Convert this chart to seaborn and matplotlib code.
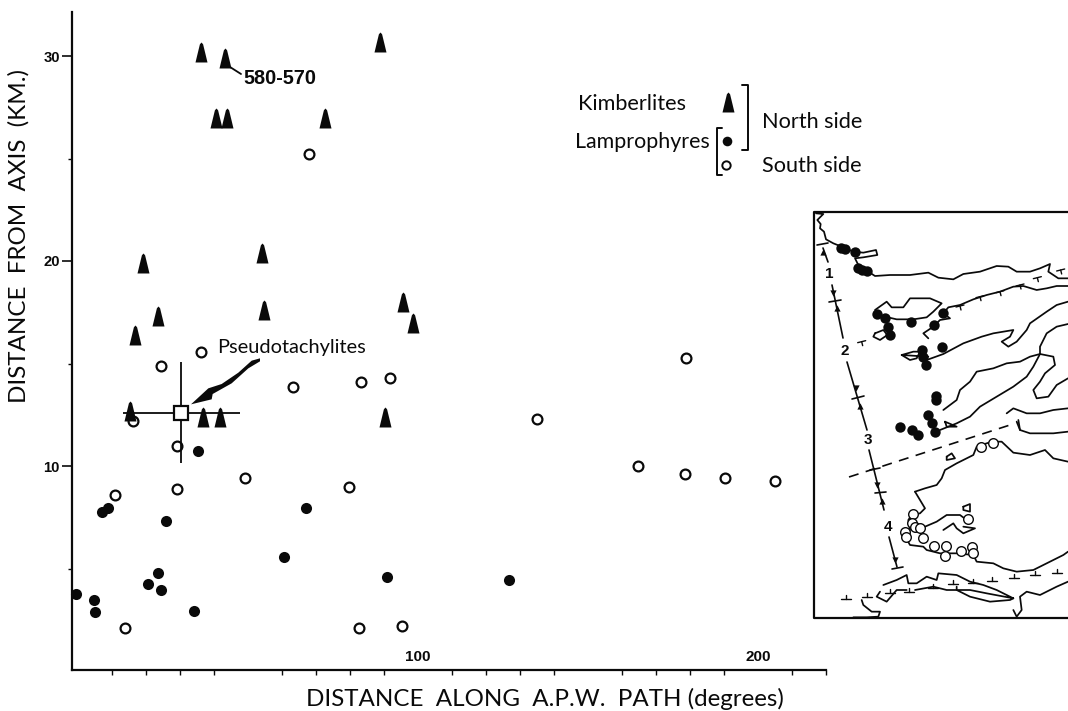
import numpy as np
import pandas as pd
import matplotlib
matplotlib.use("Agg")
import matplotlib.pyplot as plt
import seaborn as sns

# ---------- data (degrees along path, km from axis) ----------
kimb_x = [36.2, 43.2, 88.8, 40.6, 43.8, 72.6, 19.1, 54.1, 23.5, 16.8, 54.7, 95.6, 98.5, 15.3, 36.8, 41.8, 90.3]
kimb_y = [30.2, 29.9, 30.7, 27.0, 27.0, 27.0, 19.9, 20.4, 17.3, 16.4, 17.6, 18.0, 17.0, 12.7, 12.4, 12.4, 12.4]
lamp_n_x = [-0.7, 4.7, 5.0, 7.1, 8.8, 20.6, 23.4, 24.3, 25.9, 34.2, 35.3, 60.6, 67.1, 90.9, 126.8]
lamp_n_y = [3.76, 3.46, 2.88, 7.76, 7.95, 4.24, 4.78, 3.95, 7.32, 2.93, 10.73, 5.56, 7.95, 4.59, 4.44]
lamp_s_x = [13.8, 82.6, 95.3, 36.1, 24.4, 16.2, 63.2, 83.2, 91.8, 29.1, 49.1, 79.7, 29.1, 10.9, 67.9, 135.0,
            164.7, 178.8, 178.5, 190.3, 205.0]
lamp_s_y = [2.10, 2.10, 2.20, 15.56, 14.88, 12.2, 13.85, 14.1, 14.3, 10.98, 9.41, 8.98, 8.88, 8.59, 25.2, 12.3,
            10.0, 15.27, 9.6, 9.41, 9.27]
pseudo_x, pseudo_y = 30.3, 12.6
pseudo_xerr, pseudo_yerr = 17.2, 2.45
x_major = [50, 100, 150, 200]
x_major_labels = ["", "100", "", "200"]
x_minor = [10, 20, 30, 40, 60, 70, 80, 90, 110, 120, 130, 140, 160, 170, 180, 190, 210, 220]
y_major = [10, 20, 30]
y_minor = [5, 15, 25]

# ---------- inset map: traced outlines ----------
m1 = [
 [(48,40),(70,42),(52,60),(62,72),(60,85),(72,95),(78,118),(100,130),(125,140),(160,155),(190,158),(228,150),(232,165),(190,172),(165,175),(175,195),(205,215),(225,228),(270,225),(330,225),(385,218),(415,233),(460,238),(490,222),(540,215),(590,198),(625,200),(650,215),(690,215),(720,205),(750,192),(745,215),(775,235),(804,235)],
 [(804,258),(770,258),(740,265),(710,270),(670,258),(640,260),(600,275),(560,285),(520,298),(480,315),(445,322),(430,340),(450,355),(420,360),(400,380),(370,400),(385,415)],
 [(225,330),(260,305),(275,322),(310,322),(330,295),(370,295),(390,295),(425,310),(400,335),(380,352),(340,358),(290,358),(255,350),(225,340)],
 [(225,400),(250,390),(262,405),(240,420),(220,410),(225,400)],
 [(380,480),(430,462),(490,430),(545,410),(580,400),(640,390),(630,410),(605,425),(625,440),(650,425),(680,390),(690,370),(740,335),(770,315),(804,305)],
 [(385,470),(305,465),(340,455),(360,455),(350,475),(330,480),(305,465)],
 [(430,630),(470,600),(480,570),(510,545),(530,515),(580,505),(620,490),(660,485),(690,470),(720,462),(720,440),(740,400),(770,380),(804,372)],
 [(720,462),(760,470),(765,495),(735,520),(720,545),(700,570),(710,595),(745,590),(770,555),(804,535)],
 [(420,690),(470,670),(510,650),(540,620),(590,590),(640,560),(680,530),(700,500),(720,462)],
 [(620,640),(640,625),(680,640),(720,640),(760,630),(804,625)],
 [(650,665),(660,690)],
]
m2 = [
 [(655,0),(660,30),(690,40),(760,40),(804,35)],
 [(345,215),(375,205),(410,195),(425,175),(435,150),(470,130),(520,105),(530,80),(575,65),(605,65),(640,98),(690,105),(735,90),(760,115),(804,125)],
 [(345,215),(360,240),(375,265),(360,280),(335,285),(325,300),(330,330),(345,320),(375,320),(410,305),(440,285),(480,285),(500,300)],
 [(430,330),(460,310),(470,325),(490,340),(525,325),(490,320)],
 [(310,340),(330,375),(370,380),(380,390),(420,400),(470,400),(520,405),(530,425),(580,430),(610,445),(650,455),(700,450),(740,430),(790,405),(804,395)],
 [(490,260),(510,252),(510,275),(490,270),(490,260)],
 [(250,495),(290,480),(320,465),(325,490),(350,490),(380,470),(410,480),(415,460),(470,465),(510,485),(550,495),(590,510),(640,535),(630,540),(570,545),(510,530),(470,510),(510,510),(560,520),(640,535)],
 [(345,510),(400,500),(440,510),(470,510),(470,500)],
 [(240,515),(230,530),(260,545),(290,510),(320,510)],
 [(185,540),(190,555),(215,575),(240,575),(235,590),(200,592),(160,592)],
 [(640,570),(650,590),(665,570),(660,530),(680,515),(720,525),(770,500),(804,485)],
 [(435,5),(470,20),(440,20),(435,5)],
 [(440,110),(455,100),(465,115),(440,120),(440,110)],
]
map_ticks_z2 = [(137,538),(202,530),(270,519),(327,516),(400,503),(460,492),(520,490),(576,483),(642,475),(705,465),(770,460)]
map_ticks_z1 = [(782,210),(712,233),(660,255),(600,275),(540,290),(480,318),(185,425)]
map_filled = [(841,248),(845,249),(855,252),(858,268),(862,270),(867,271),(877,314),(885,318),(888,327),(890,335),(911,322),
              (943,313),(934,325),(942,347),(922,350),(923,357),(926,365),(936,396),(936,400),(928,415),(932,423),
              (900,427),(912,430),(918,435),(935,432)]
map_open = [(981,447),(993,443),(913,514),(912,523),(915,527),(920,528),(905,532),(906,537),(923,538),(934,546),
            (946,546),(945,556),(961,551),(972,547),(973,553),(968,519)]
path_segments = [[(823,248),(828,262)],[(832,285),(843,338)],[(847,362),(867,430)],[(869,450),(884,510)],[(889,537),(897,567)]]
path_bars = [[(817,245),(828,243)],[(829,302),(841,300)],[(852,399),(864,396)],[(875,493),(886,492)],
             [(892,569),(903,567)],[(870,470),(880,468)]]
path_numbers = [("1",829,274),("2",845,351),("3",868,440),("4",888,527)]
path_up = [(823,252),(837,308),(860,406),(882,501)]
path_down = [(833,293),(856,388),(877,485),(895,560)]

def z1(pts):
    return [(800 + a/3, 200 + b/3) for a, b in pts]
def z2(pts):
    return [(800 + a/3, 420 + b/3) for a, b in pts]

# ---------- figure ----------
sns.set_style("white")
hand = ["Lato", "DejaVu Sans"]
bold = ["Liberation Sans", "DejaVu Sans"]
plt.rcParams["font.family"] = hand

W, H = 1068, 711
fig = plt.figure(figsize=(W/100, H/100), dpi=100, facecolor="white")
L, R, T, B = 72, 826, 12, 670
ax = fig.add_axes([L/W, 1-B/H, (R-L)/W, (B-T)/H])
ink = "#0a0a0a"
ax.set_xlim((L-78)/3.4, (R-78)/3.4)
ax.set_ylim((671-B)/20.5, (671-T)/20.5)

tri = [(-0.6,-1.0),(-0.42,-0.25),(-0.16,0.82),(0,1.0),(0.16,0.82),(0.42,-0.25),(0.6,-1.0)]
kimb = pd.DataFrame({"x": kimb_x, "y": kimb_y})
ln = pd.DataFrame({"x": lamp_n_x, "y": lamp_n_y})
ls = pd.DataFrame({"x": lamp_s_x, "y": lamp_s_y})

sns.scatterplot(data=ls, x="x", y="y", ax=ax, marker="o", s=50, color="white", edgecolor=ink, linewidth=1.6, zorder=3, clip_on=False)
sns.scatterplot(data=ln, x="x", y="y", ax=ax, marker="o", s=64, color=ink, edgecolor=ink, linewidth=0, zorder=3, clip_on=False)
ax.errorbar([pseudo_x], [pseudo_y], xerr=[pseudo_xerr], yerr=[pseudo_yerr], fmt="s", ms=10.5, mfc="white", mec=ink, mew=1.6,
            ecolor=ink, elinewidth=1.3, capsize=0, zorder=4)
sns.scatterplot(data=kimb, x="x", y="y", ax=ax, marker=tri, s=207, color=ink, edgecolor=ink, linewidth=0, zorder=5, clip_on=False)

ax.set_xticks(x_major)
ax.set_xticklabels(x_major_labels, family=bold, fontweight="bold", fontsize=11, color=ink)
ax.set_xticks(x_minor, minor=True)
ax.set_yticks(y_major)
ax.set_yticklabels([str(v) for v in y_major], family=bold, fontweight="bold", fontsize=10.6, color=ink)
ax.set_yticks(y_minor, minor=True)
ax.tick_params(axis="x", which="major", direction="inout", length=8.5, width=1.2, pad=-19, color=ink)
ax.tick_params(axis="x", which="minor", direction="out", length=3.6, width=1.0, color=ink, bottom=True)
ax.tick_params(axis="y", which="major", direction="out", length=7.2, width=1.2, pad=1.5, color=ink, left=True)
ax.tick_params(axis="y", which="minor", direction="out", length=3.2, width=1.0, color=ink, left=True)
for s in ("top", "right"):
    ax.spines[s].set_visible(False)
for s in ("left", "bottom"):
    ax.spines[s].set_linewidth(1.6)
    ax.spines[s].set_color(ink)

ax.set_xlabel("DISTANCE  ALONG  A.P.W.  PATH (degrees)", fontsize=17.4, color=ink)
ax.xaxis.set_label_coords((545-L)/(R-L), (B-699)/(B-T))
ax.xaxis.label.set_va("center")
ax.set_ylabel("DISTANCE  FROM  AXIS  (KM.)", fontsize=17.4, color=ink)
ax.yaxis.set_label_coords((19-L)/(R-L), (B-236)/(B-T))
ax.yaxis.label.set_va("center")

# ---------- overlay in picture pixels: annotations, key, map ----------
ov = fig.add_axes([0, 0, 1, 1], facecolor="none", zorder=10)
ov.set_xlim(0, W); ov.set_ylim(H, 0); ov.axis("off")

def poly(pts, lw=1.2, **kw):
    a = np.array(pts)
    ov.plot(a[:, 0], a[:, 1], color=ink, lw=lw, solid_capstyle="round", solid_joinstyle="round", **kw)

# annotations
ov.text(217, 347, "Pseudotachylites", fontsize=14.4, va="center", ha="left", color=ink)
arrow = [(600,115),(575,122),(535,158),(485,192),(445,205),(393,253),(455,238),(458,222),(515,190),(565,145),(600,124)]
a = np.array([(60 + p/3, 320 + q/3) for p, q in arrow])
ov.fill(a[:, 0], a[:, 1], color=ink, lw=0)
poly([(230,67),(241,74)], lw=1.3)
ov.text(243, 78, "580-570", family=bold, fontweight="bold", fontsize=14.3, va="center", ha="left", color=ink)

# key
ov.text(578, 104, "Kimberlites", fontsize=15.6, va="center", ha="left", color=ink)
ov.text(575, 142, "Lamprophyres", fontsize=15.4, va="center", ha="left", color=ink)
ov.text(762, 122, "North side", fontsize=15.6, va="center", ha="left", color=ink)
ov.text(762, 166, "South side", fontsize=15.6, va="center", ha="left", color=ink)
ov.scatter([728], [102], marker=tri, s=207, color=ink, linewidth=0)
ov.scatter([727], [141], marker="o", s=48, color=ink, linewidth=0)
ov.scatter([726], [165], marker="o", s=36, color="white", edgecolor=ink, linewidth=1.4)
poly([(722,128),(717,128),(717,175),(722,175)], lw=1.4)
poly([(742,85),(748,85),(748,150),(742,150)], lw=1.4)

# map frame
poly([(1068,212),(814,212),(814,618),(1068,618)], lw=1.6)
for seg in m1:
    poly(z1(seg), lw=1.25)
for seg in m2:
    poly(z2(seg), lw=1.25)
for tx, ty in z2(map_ticks_z2):
    poly([(tx-5, ty), (tx+5, ty)], lw=1.0)
    poly([(tx, ty), (tx, ty-4)], lw=1.0)
for tx, ty in z1(map_ticks_z1):
    poly([(tx-4, ty+1), (tx+4, ty-1)], lw=1.0)
    poly([(tx, ty), (tx+1, ty+4)], lw=1.0)
fx, fy = zip(*map_filled)
ov.scatter(fx, fy, s=56, color=ink, linewidth=0, zorder=5)
ox, oy = zip(*map_open)
ov.scatter(ox, oy, s=48, color="white", edgecolor=ink, linewidth=1.0, zorder=5)
# path and section marks
for seg in path_segments:
    poly(seg, lw=1.2)
for seg in path_bars:
    poly(seg, lw=1.2)
for label, nx, ny in path_numbers:
    ov.text(nx, ny, label, family=bold, fontweight="bold", fontsize=11, ha="center", va="center", color=ink)
ux, uy = zip(*path_up)
ov.scatter(ux, uy, marker="^", s=20, color=ink, linewidth=0)
dx, dy = zip(*path_down)
ov.scatter(dx, dy, marker="v", s=20, color=ink, linewidth=0)
poly([(849,477),(1010,425)], lw=1.2, ls=(0, (6, 4.5)))

fig.savefig("out.png", dpi=100, facecolor="white")
